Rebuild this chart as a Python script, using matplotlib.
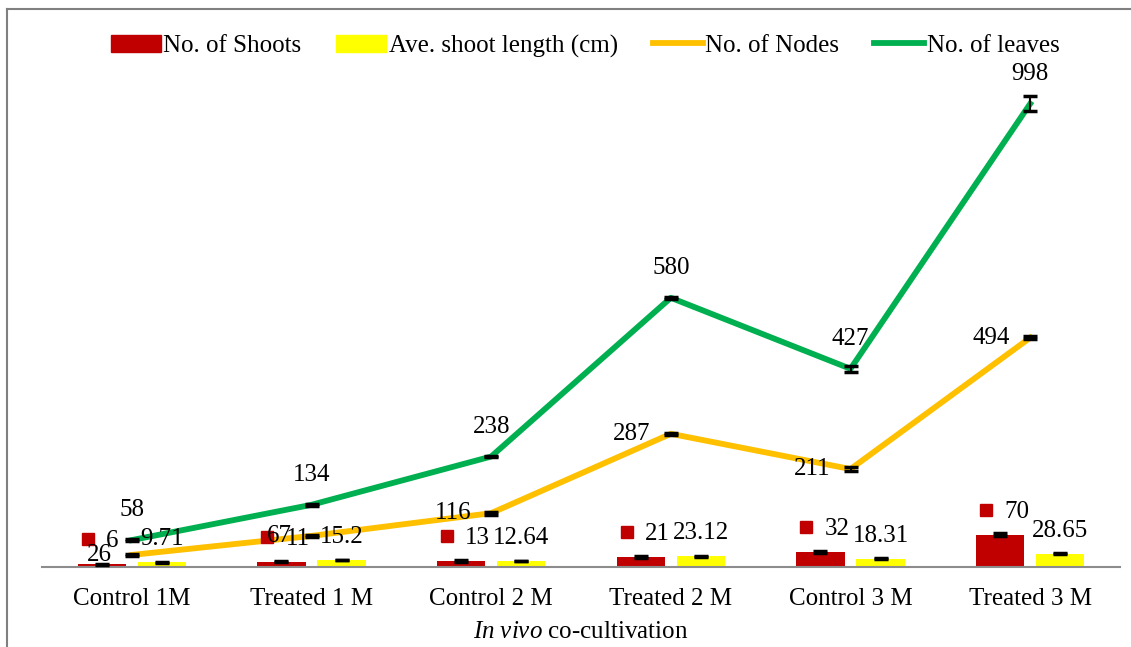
import matplotlib
matplotlib.use("Agg")
import matplotlib.pyplot as plt
from matplotlib.patches import Patch
from matplotlib.lines import Line2D
from matplotlib.transforms import offset_copy
import numpy as np

plt.rcParams['font.family'] = ['Liberation Serif', 'DejaVu Serif']
plt.rcParams['mathtext.fontset'] = 'custom'
plt.rcParams['mathtext.rm'] = 'Liberation Serif'
plt.rcParams['mathtext.it'] = 'Liberation Serif:italic'

groups = ["Control 1M", "Treated 1 M", "Control 2 M", "Treated 2 M", "Control 3 M", "Treated 3 M"]
shoots = [6, 11, 13, 21, 32, 70]
shoots_err = [1, 1, 1.5, 2.5, 1.5, 3]
shoot_len = [9.71, 15.2, 12.64, 23.12, 18.31, 28.65]
shoot_len_err = [0.5, 0.6, 0.5, 0.5, 0.5, 0.8]
nodes = [26, 67, 116, 287, 211, 494]
nodes_err = [2, 2, 3, 2, 5, 3]
leaves = [58, 134, 238, 580, 427, 998]
leaves_err = [2, 2, 2, 2, 6, 16]

red = "#C00000"
yellow = "#FFFF00"
orange = "#FFC000"
green = "#00B050"

fig = plt.figure(figsize=(11.31, 6.47), dpi=100)
ax = fig.add_axes([42 / 1131, 80 / 647, 1078 / 1131, 557 / 647])

x = np.arange(len(groups))
w = 0.27
off = 0.167

ax.bar(x - off, shoots, w, color=red, zorder=2)
ax.bar(x + off, shoot_len, w, color=yellow, zorder=2)
ax.errorbar(x - off, shoots, yerr=shoots_err, fmt='none', ecolor='black',
            elinewidth=1.5, capsize=5, capthick=2.5, zorder=3)
ax.errorbar(x + off, shoot_len, yerr=shoot_len_err, fmt='none', ecolor='black',
            elinewidth=1.5, capsize=5, capthick=2.5, zorder=3)

ax.plot(x, nodes, color=orange, lw=4.2, zorder=4)
ax.plot(x, leaves, color=green, lw=4.2, zorder=4)
ax.errorbar(x, nodes, yerr=nodes_err, fmt='none', ecolor='black',
            elinewidth=1.5, capsize=5, capthick=2.5, zorder=5)
ax.errorbar(x, leaves, yerr=leaves_err, fmt='none', ecolor='black',
            elinewidth=1.5, capsize=5, capthick=2.5, zorder=5)

fs = 18
# data labels
num_tr = offset_copy(ax.transData, fig=fig, x=4, y=23, units='dots')
key_tr = offset_copy(ax.transData, fig=fig, x=-14, y=25, units='dots')
len_tr = offset_copy(ax.transData, fig=fig, x=0, y=23, units='dots')
node_tr = offset_copy(ax.transData, fig=fig, x=-20, y=0, units='dots')
leaf_tr = offset_copy(ax.transData, fig=fig, x=0, y=30, units='dots')

for i in range(len(groups)):
    ax.plot(x[i] - off, shoots[i], marker='s', ms=9, color=red, transform=key_tr,
            clip_on=False, zorder=6)
    ax.text(x[i] - off, shoots[i], str(shoots[i]), transform=num_tr, fontsize=fs,
            ha='left', va='center', zorder=6)
    ax.text(x[i] + off, shoot_len[i], str(shoot_len[i]), transform=len_tr, fontsize=fs,
            ha='center', va='center', zorder=6)
    ax.text(x[i], nodes[i], str(nodes[i]), transform=node_tr, fontsize=fs,
            ha='right', va='center', zorder=6)
    ax.text(x[i], leaves[i], str(leaves[i]), transform=leaf_tr, fontsize=fs,
            ha='center', va='center', zorder=6)

ax.set_xlim(-0.5, len(groups) - 0.5)
ax.set_ylim(0, 1200)
ax.set_xticks(x)
ax.set_xticklabels(groups, fontsize=fs)
ax.tick_params(axis='x', length=0, pad=15)
ax.set_yticks([])
for s in ['top', 'right', 'left']:
    ax.spines[s].set_visible(False)
ax.spines['bottom'].set_color('#8c8c8c')
ax.spines['bottom'].set_linewidth(1.5)
ax.set_xlabel(r'$\it{In\ vivo}$ co-cultivation', fontsize=fs, labelpad=8)

handles = [Patch(color=red), Patch(color=yellow),
           Line2D([0], [0], color=orange, lw=4.2), Line2D([0], [0], color=green, lw=4.2)]
labels = ["No. of Shoots", "Ave. shoot length (cm)", "No. of Nodes", "No. of leaves"]
fig.legend(handles, labels, loc='center', bbox_to_anchor=(585 / 1131, 1 - 46 / 647),
           ncol=4, frameon=False, fontsize=fs, handlelength=2, handletextpad=0.1,
           columnspacing=1.4)

# outer frame (top and left edges visible)
fig.add_artist(Line2D([7 / 1131, 1], [1 - 9 / 647, 1 - 9 / 647], color='#808080', lw=1.5))
fig.add_artist(Line2D([7 / 1131, 7 / 1131], [0, 1 - 9 / 647], color='#808080', lw=1.5))

fig.savefig("out.png", dpi=100)
